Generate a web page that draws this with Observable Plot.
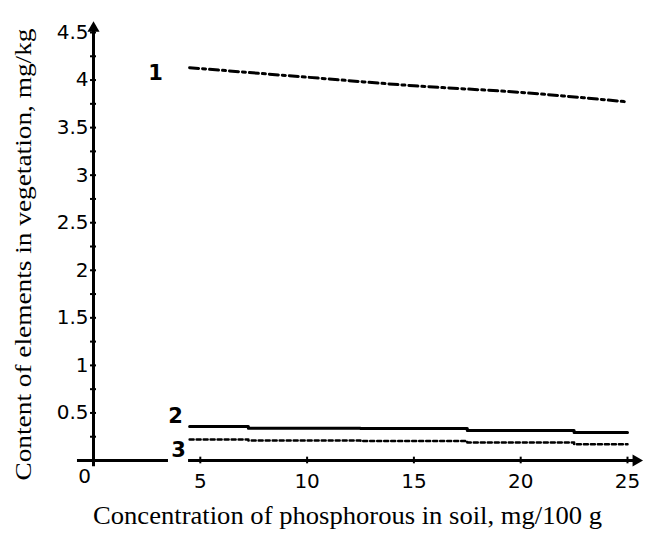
<!DOCTYPE html>
<html><head><meta charset="utf-8">
<script src="https://cdn.jsdelivr.net/npm/d3@7"></script>
<script src="https://cdn.jsdelivr.net/npm/@observablehq/plot@0.6"></script>
<style>body{margin:0;background:#fff}</style>
</head><body><div id="chart"></div>
<script>
// Data
const phosphorus = [4.5, 10, 15, 20, 25];
const series1 = [4.13, 4.03, 3.94, 3.87, 3.77];
const series2 = [0.357, 0.34, 0.336, 0.315, 0.294];
const series3 = [0.22, 0.21, 0.205, 0.19, 0.17];
const xTickValues = [5, 10, 15, 20, 25];
const yTickLabels = [0.5, 1, 1.5, 2, 2.5, 3, 3.5, 4, 4.5];
const yMinorTicks = d3.range(0.25, 4.51, 0.25);
const seriesNames = ["1", "2", "3"];
const seriesLabelX = [2.9, 3.84, 3.98];
const seriesLabelY = [4.07, 0.47, 0.105];
const xTitle = "Concentration of phosphorous in soil, mg/100 g";
const yTitle = "Content of elements in vegetation, mg/kg";

const rows = [];
[series1, series2, series3].forEach((s, k) =>
  s.forEach((v, i) => rows.push({series: seriesNames[k], x: phosphorus[i], y: v})));
const byS = n => rows.filter(r => r.series === n);
const labels = seriesNames.map((n, i) => ({n, x: seriesLabelX[i], y: seriesLabelY[i]}));

const sans = "DejaVu Sans, Verdana, sans-serif";
const serif = "Liberation Serif, Times New Roman, serif";

const chart = Plot.plot({
  width: 645, height: 539,
  marginLeft: 93, marginRight: 18, marginTop: 32, marginBottom: 79,
  x: {domain: [0, 25], axis: null},
  y: {domain: [0, 4.5], axis: null},
  style: {fontFamily: sans, background: "#fff", color: "#000"},
  marks: [
    // y axis
    Plot.ruleX([0], {y1: -0.065, y2: 4.55, stroke: "black", strokeWidth: 3}),
    Plot.dot([0], {x: 0, y: 4.545, symbol: "triangle", r: 4.5, fill: "black", stroke: "none"}),
    Plot.ruleY(yMinorTicks, {x1: -0.14, x2: 0.14, stroke: "black", strokeWidth: 2}),
    Plot.text(yTickLabels, {x: 0, y: d => d, text: d => String(d), textAnchor: "end", dx: -5, fontSize: 20}),
    // x axis (broken around label 3)
    Plot.ruleY([0], {x1: -0.75, x2: 3.51, stroke: "black", strokeWidth: 3}),
    Plot.ruleY([0], {x1: 4.45, x2: 25.3, stroke: "black", strokeWidth: 3}),
    Plot.dot([0], {x: 25.4, y: 0, symbol: "triangle", rotate: 90, r: 4.5, fill: "black", stroke: "none"}),
    Plot.ruleX(xTickValues, {y1: -0.035, y2: 0.035, stroke: "black", strokeWidth: 2}),
    Plot.text(xTickValues, {x: d => d, y: 0, text: d => String(d), dy: 21, fontSize: 20}),
    Plot.text(["0"], {x: 0, y: 0, text: d => d, dx: -9, dy: 16, fontSize: 20}),
    // series
    Plot.line(byS("1"), {x: "x", y: "y", stroke: "black", strokeWidth: 3, strokeDasharray: "9,4,3,4", curve: "monotone-x"}),
    Plot.line(byS("2"), {x: "x", y: "y", stroke: "black", strokeWidth: 3, curve: "step"}),
    Plot.line(byS("3"), {x: "x", y: "y", stroke: "black", strokeWidth: 2.5, strokeDasharray: "4,3", curve: "step"}),
    Plot.text(labels, {x: "x", y: "y", text: "n", fontSize: 21, fontWeight: "bold"}),
    // axis titles
    Plot.text([xTitle], {frameAnchor: "bottom", dy: 63, dx: -13, fontFamily: serif, fontSize: 25, className: "xtitle"}),
    Plot.text([yTitle], {frameAnchor: "left", textAnchor: "middle", rotate: -90, dx: -70, dy: 8, fontFamily: serif, fontSize: 24, className: "ytitle"})
  ]
});
d3.select(chart).selectAll(".xtitle text").attr("textLength", 509).attr("lengthAdjust", "spacingAndGlyphs");
d3.select(chart).selectAll(".ytitle text").attr("textLength", 452).attr("lengthAdjust", "spacingAndGlyphs");
document.getElementById("chart").append(chart);
</script></body></html>
